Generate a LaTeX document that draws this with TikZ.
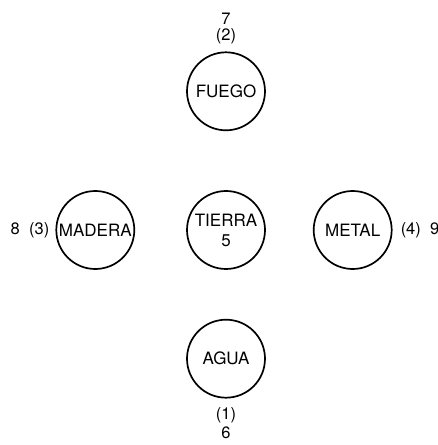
\documentclass[tikz,border=0pt]{standalone}
\usepackage{fontspec}
\setmainfont{TeX Gyre Heros}
\usepackage{tikz}
\usetikzlibrary{positioning}

\begin{document}
\begin{tikzpicture}[x=1pt, y=1pt,
                    elementnode/.style={circle, draw=black, line width=1.7pt, minimum size=78pt, inner sep=0pt, align=center, font=\fontsize{17}{19}\selectfont},
                    numbernode/.style={inner sep=0pt, font=\fontsize{16.5}{19}\selectfont}]
                    \useasboundingbox (0,0) rectangle (438,445);
                    \node[elementnode] (tierra) at (226,215) {TIERRA\\[1pt]5};
                    \node[elementnode] (fuego) [above=59pt of tierra] {FUEGO};
                    \node[elementnode] (agua) [below=49pt of tierra] {AGUA};
                    \node[elementnode] (madera) [left=51pt of tierra] {MADERA};
                    \node[elementnode] (metal) [right=47pt of tierra] {METAL};

                    \node[numbernode] (fuego-1) [above=7pt of fuego] {(2)};
                    \node[numbernode] (fuego-2) [above=4pt of fuego-1] {7};
                    \node[numbernode] (agua-1) [below=9pt of agua] {(1)};
                    \node[numbernode] (agua-2) [below=3pt of agua-1] {6};
                    \node[numbernode] (madera-1) [left=6pt of madera] {8\ \ (3)};
                    \node[numbernode] (metal-1) [right=8pt of metal] {(4)\ \ 9};
                    \end{tikzpicture}
\end{document}
